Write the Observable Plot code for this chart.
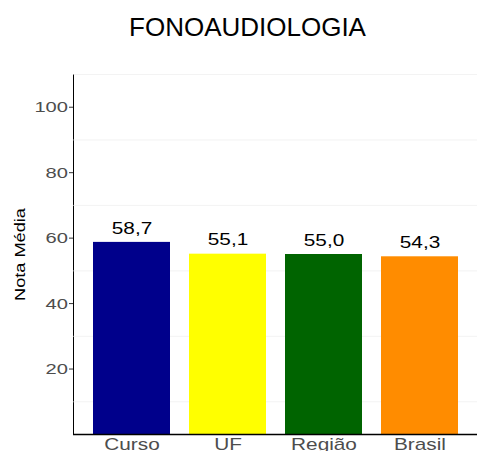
<!DOCTYPE html>
<html><head><meta charset="utf-8">
<script src="https://cdn.jsdelivr.net/npm/d3@7"></script>
<script src="https://cdn.jsdelivr.net/npm/@observablehq/plot@0.6"></script>
<style>
body{margin:0;background:#fff;font-family:"Liberation Sans",Arial,sans-serif;}
#title{position:relative;height:60px;width:477px;}
#title span{position:absolute;left:247.5px;top:14px;transform:translateX(-50%);font-size:26px;line-height:26px;color:#000;white-space:nowrap;}
#chart g[aria-label="y-axis tick label"], #chart g[aria-label="y-axis tick label"] text{fill:#4d4d4d;font-size:15.5px;}
#chart g[aria-label="x-axis tick label"], #chart g[aria-label="x-axis tick label"] text{fill:#4d4d4d;font-size:16px;}
#chart g[aria-label="y-axis tick"]{stroke:#333;}
</style></head><body>
<div id="title"><span>FONOAUDIOLOGIA</span></div>
<div id="chart"></div>
<script>
const categories = ["Curso", "UF", "Região", "Brasil"];
const values = [58.7, 55.1, 55.0, 54.3];
const valueLabels = ["58,7", "55,1", "55,0", "54,3"];
const colors = ["#00008B", "#FFFF00", "#006400", "#FF8C00"];
const yTicks = [20, 40, 60, 80, 100];
const gridLines = [10, 30, 50, 70, 90, 110];
const yLabel = "Nota Média";

const data = categories.map((c, i) => ({cat: c, value: values[i], label: valueLabels[i], color: colors[i]}));

const chart = Plot.plot({
  width: 477, height: 391,
  marginLeft: 73, marginRight: 0, marginTop: 14, marginBottom: 17,
  style: {fontFamily: "Liberation Sans, Arial, sans-serif", background: "#fff", overflow: "visible", color: "#000"},
  x: {domain: categories, paddingInner: 0.2, paddingOuter: 0.2, label: null, tickSize: 0, tickPadding: 4},
  y: {domain: [0, 110], ticks: yTicks, label: null, tickSize: 4, tickPadding: 1.5, line: true},
  color: {type: "identity"},
  marks: [
    Plot.ruleY(gridLines, {stroke: "#ebebeb", strokeWidth: 0.6}),
    Plot.barY(data, {x: "cat", y: "value", fill: "color"}),
    Plot.text(data, {x: "cat", y: "value", text: "label", dy: -14, fontSize: 16, fill: "#000"}),
    Plot.ruleY([0], {stroke: "#000", strokeWidth: 1.5}),
    Plot.text([yLabel], {frameAnchor: "left", textAnchor: "middle", dx: -53, rotate: -90, fontSize: 14, fill: "#000"})
  ]
});
document.getElementById("chart").appendChild(chart);
// widen glyphs along the text direction to match the reference's wide sans rendering
chart.querySelectorAll("text").forEach(t => {
  const tr = t.getAttribute("transform");
  if (tr) t.setAttribute("transform", tr + " scale(1.3,1)");
});
</script>
</body></html>
